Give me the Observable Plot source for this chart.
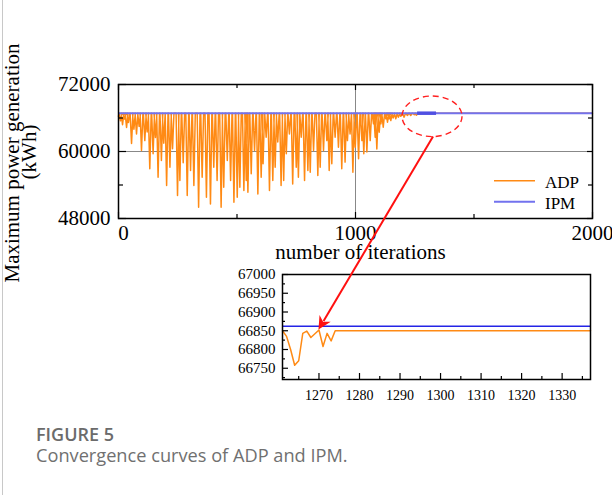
<!DOCTYPE html>
<html><head><meta charset="utf-8">
<script src="https://cdn.jsdelivr.net/npm/d3@7"></script>
<script src="https://cdn.jsdelivr.net/npm/@observablehq/plot@0.6"></script>
<style>
body{margin:0;background:#fff;}
#wrap{position:relative;width:612px;height:495px;overflow:hidden;}
#wrap > svg{position:absolute;left:0;top:0;}
</style></head><body><div id="wrap"></div>
<script>
// ---------------- data ----------------
const ipmValue = 66862;          // IPM optimum (kWh)
const adpPeak = 66850;           // ADP converged value (kWh)
const firstValue = 66300;        // ADP at iteration 0
const lastIteration = 2000;
// ADP troughs: [iteration, kWh]
const adpDips = [
 [8,65500],[17,64800],[25,65800],[34,64300],[42,65200],[55,61450],[65,64000],[76,63150],[87,64500],[97,60200],
 [111,61950],[121,63500],[132,56900],[146,59600],[156,62500],[167,55400],[181,58400],[191,61500],[203,53900],
 [217,57200],[228,60500],[249,52100],[259,54800],[273,58000],[290,52100],[304,56600],[318,53900],[338,50000],
 [353,55400],[371,51800],[388,50600],[402,57200],[416,54800],[433,50000],[444,53600],[459,58400],[473,54800],
 [487,50900],[501,51800],[512,53600],[529,53000],[539,54800],[546,52700],[560,56000],[574,60200],[588,52400],
 [602,55400],[610,57800],[623,62550],[637,53000],[651,54800],[661,57200],[672,61700],[686,53900],[697,54800],
 [708,59600],[721,63150],[735,54200],[750,57200],[759,55400],[771,62550],[785,54800],[799,56600],[809,56300],
 [823,60200],[841,55700],[851,57200],[865,60200],[879,61950],[889,56600],[900,57800],[914,62550],[928,60750],
 [942,56900],[956,58100],[966,61950],[977,63150],[989,56300],[999,60750],[1013,58700],[1027,61950],[1035,59600],
 [1048,59900],[1062,61950],[1076,64950],[1083,62550],[1090,60450],[1100,63450],[1107,64950],[1117,64350],
 [1128,65850],[1135,65250],[1142,65850],[1149,65550],[1159,66000],[1170,65850],[1181,66150],[1191,66300],
 [1205,66150],[1219,66450],[1233,66450],[1248,66600],[1257,66500]
];
// zoomed window (inset)
const zoomIter = [1261,1262,1263,1264,1265,1266,1267,1268,1269,1270,1271,1272,1273,1274,1337];
const zoomADP  = [66850,66835,66800,66758,66770,66843,66849,66832,66842,66852,66808,66843,66823,66850,66850];
const zoomDomain = [1261, 1337];
const zoomYDomain = [66720, 67000];
// ticks
const mainXMajor = [0, 1000, 2000];
const mainXMinor = [500, 1500];
const mainYMajor = [48000, 60000, 72000];
const mainYMinor = [54000, 66000];
const insetXMajor = [1270,1280,1290,1300,1310,1320,1330];
const insetXMinor = [1265,1275,1285,1295,1305,1315,1325,1335];
const insetYMajor = [66750,66800,66850,66900,66950,67000];
const insetYMinor = [66725,66775,66825,66875,66925,66975];
// circled region / arrow target
const circleCenter = [1325, 66215];
const arrowTarget = [1270, 66852];

const adpColor = "#ff8a14";
const ipmColor = "#7272ee";
const serif = "Liberation Serif, Times New Roman, serif";

// build ADP series (each trough returns to the peak value)
const adpSeries = [{it: 0, v: firstValue}];
for (const [it, v] of adpDips) {
  adpSeries.push({it: it - 6, v: adpPeak}, {it, v}, {it: it + 6, v: adpPeak});
}
zoomIter.forEach((it, i) => adpSeries.push({it, v: zoomADP[i]}));
adpSeries.push({it: lastIteration, v: adpPeak});
const insetSeries = zoomIter.map((it, i) => ({it, v: zoomADP[i]}));

const wrap = document.getElementById("wrap");

// ---------------- main chart ----------------
const mW = 612, mH = 265, mL = 118, mR = 20, mT = 84, mB = 47;
const fW = mW - mL - mR, fH = mH - mT - mB;
const main = Plot.plot({
  width: mW, height: mH, marginLeft: mL, marginRight: mR, marginTop: mT, marginBottom: mB,
  x: {domain: [0, lastIteration], axis: null},
  y: {domain: [48000, 72000], axis: null},
  style: {fontFamily: serif, fontSize: "21px", background: "transparent", overflow: "visible", color: "black"},
  marks: [
    Plot.ruleX([1000], {stroke: "#888", strokeWidth: 1}),
    Plot.ruleY([60000], {stroke: "#888", strokeWidth: 1}),
    Plot.line(adpSeries, {x: "it", y: "v", stroke: adpColor, strokeWidth: 1.5}),
    Plot.ruleY([ipmValue], {x1: 0, x2: lastIteration, stroke: ipmColor, strokeWidth: 2}),
    Plot.ruleY([ipmValue], {x1: zoomDomain[0] + 1, x2: zoomDomain[1] + 5, stroke: "#5050e2", strokeWidth: 3.5}),
    // ticks (inward, all four sides)
    Plot.tickX(mainXMajor, {x: d => d, insetTop: fH - 6, stroke: "black", strokeWidth: 1.2}),
    Plot.tickX(mainXMajor, {x: d => d, insetBottom: fH - 6, stroke: "black", strokeWidth: 1.2}),
    Plot.tickX(mainXMinor, {x: d => d, insetTop: fH - 4, stroke: "black", strokeWidth: 1.2}),
    Plot.tickX(mainXMinor, {x: d => d, insetBottom: fH - 4, stroke: "black", strokeWidth: 1.2}),
    Plot.tickY(mainYMajor, {y: d => d, insetRight: fW - 8, stroke: "black", strokeWidth: 1.2}),
    Plot.tickY(mainYMajor, {y: d => d, insetLeft: fW - 5, stroke: "black", strokeWidth: 1.2}),
    Plot.tickY(mainYMinor, {y: d => d, insetRight: fW - 5, stroke: "black", strokeWidth: 1.2}),
    Plot.tickY(mainYMinor, {y: d => d, insetLeft: fW - 4, stroke: "black", strokeWidth: 1.2}),
    Plot.frame({stroke: "black", strokeWidth: 1.5}),
    // tick labels
    Plot.text(mainXMajor.slice(0, 1), {x: d => d, text: d => String(d), frameAnchor: "bottom", dy: 15, dx: 5, lineAnchor: "middle", fill: "black"}),
    Plot.text(mainXMajor.slice(1), {x: d => d, text: d => String(d), frameAnchor: "bottom", dy: 15, lineAnchor: "middle", fill: "black"}),
    Plot.text(mainYMajor, {y: d => d, text: d => String(d), frameAnchor: "left", dx: -8, textAnchor: "end", lineAnchor: "middle", fill: "black"}),
    Plot.text(["number of iterations"], {frameAnchor: "bottom", dy: 40, dx: 5, lineAnchor: "bottom", fill: "black"})
  ]
});
wrap.appendChild(main);

// ---------------- inset ----------------
const iW = 612, iH = 410, iL = 282, iR = 22, iT = 274, iB = 31;
const ifW = iW - iL - iR, ifH = iH - iT - iB;
const inset = Plot.plot({
  width: iW, height: iH, marginLeft: iL, marginRight: iR, marginTop: iT, marginBottom: iB,
  x: {domain: zoomDomain, axis: null},
  y: {domain: zoomYDomain, axis: null},
  style: {fontFamily: serif, fontSize: "15px", background: "transparent", overflow: "visible", color: "black"},
  marks: [
    Plot.ruleY([ipmValue], {stroke: "#2424e6", strokeWidth: 1.5}),
    Plot.line(insetSeries, {x: "it", y: "v", stroke: adpColor, strokeWidth: 1.5}),
    Plot.tickX(insetXMajor, {x: d => d, insetTop: ifH - 6, stroke: "black", strokeWidth: 1.2}),
    Plot.tickX(insetXMinor, {x: d => d, insetTop: ifH - 3, stroke: "black", strokeWidth: 1.2}),
    Plot.tickY(insetYMajor, {y: d => d, insetRight: ifW - 6, stroke: "black", strokeWidth: 1.2}),
    Plot.tickY(insetYMinor, {y: d => d, insetRight: ifW - 3, stroke: "black", strokeWidth: 1.2}),
    Plot.frame({stroke: "black", strokeWidth: 1.5}),
    Plot.text(insetXMajor, {x: d => d, text: d => String(d), frameAnchor: "bottom", dy: 16, lineAnchor: "middle", fill: "black", fontSize: 14}),
    Plot.text(insetYMajor, {y: d => d, text: d => String(d), frameAnchor: "left", dx: -7, textAnchor: "end", lineAnchor: "middle", fill: "black"})
  ]
});
wrap.appendChild(inset);

// ---------------- overlay: labels, legend, annotation, caption ----------------
const mx = main.scale("x"), my = main.scale("y");
const ix = inset.scale("x"), iy = inset.scale("y");
const svg = d3.select(wrap).append("svg").attr("width", 612).attr("height", 495);

svg.append("line").attr("x1", 2.5).attr("x2", 2.5).attr("y1", 0).attr("y2", 495)
  .attr("stroke", "#c8c8c8").attr("stroke-width", 1);

// y-axis title
svg.append("text").attr("transform", "translate(18.5,163) rotate(-90)")
  .attr("text-anchor", "middle").attr("font-family", serif).attr("font-size", 21)
  .text("Maximum power generation");
svg.append("text").attr("transform", "translate(36,152) rotate(-90)")
  .attr("text-anchor", "middle").attr("font-family", serif).attr("font-size", 21)
  .text("(kWh)");

// legend
const legend = [{name: "ADP", color: adpColor, y: 180.7, w: 1.5}, {name: "IPM", color: ipmColor, y: 201.7, w: 2}];
for (const l of legend) {
  svg.append("line").attr("x1", 494).attr("x2", 535).attr("y1", l.y).attr("y2", l.y)
    .attr("stroke", l.color).attr("stroke-width", l.w);
  svg.append("text").attr("x", 545).attr("y", l.y + 7.3).attr("font-family", serif)
    .attr("font-size", 17).text(l.name);
}

// dashed ellipse around the converged region
const cx = mx.apply(circleCenter[0]), cy = my.apply(circleCenter[1]);
const rx = 30, ry = 20.3;
svg.append("ellipse").attr("cx", cx).attr("cy", cy).attr("rx", rx).attr("ry", ry)
  .attr("fill", "none").attr("stroke", "#ff2020").attr("stroke-width", 1.4).attr("stroke-dasharray", "6,4");

// arrow to the inset
const sx = cx + 1, sy = cy + ry;
const tx = ix.apply(arrowTarget[0]), ty = iy.apply(arrowTarget[1]);
const dx = tx - sx, dy = ty - sy, len = Math.hypot(dx, dy);
const ux = dx / len, uy = dy / len, nx = -uy, ny = ux;
const hl = 13, hw = 6.5;
const bx = tx - ux * hl, by = ty - uy * hl;
svg.append("line").attr("x1", sx).attr("y1", sy).attr("x2", bx + ux * 3).attr("y2", by + uy * 3)
  .attr("stroke", "#ff1010").attr("stroke-width", 2);
svg.append("path").attr("d",
  `M${tx},${ty} L${bx + nx * hw},${by + ny * hw} L${bx + ux * 4},${by + uy * 4} L${bx - nx * hw},${by - ny * hw} Z`)
  .attr("fill", "#ff1010");

// caption
const sans = "Open Sans, Noto Sans, sans-serif";
svg.append("text").attr("x", 36).attr("y", 440.5).attr("font-family", sans).attr("font-weight", 600)
  .attr("font-size", 18).attr("fill", "#6b6b6b").text("FIGURE 5");
svg.append("text").attr("x", 36).attr("y", 461.5).attr("font-family", sans)
  .attr("font-size", 18.2).attr("fill", "#707070").text("Convergence curves of ADP and IPM.");
</script></body></html>
